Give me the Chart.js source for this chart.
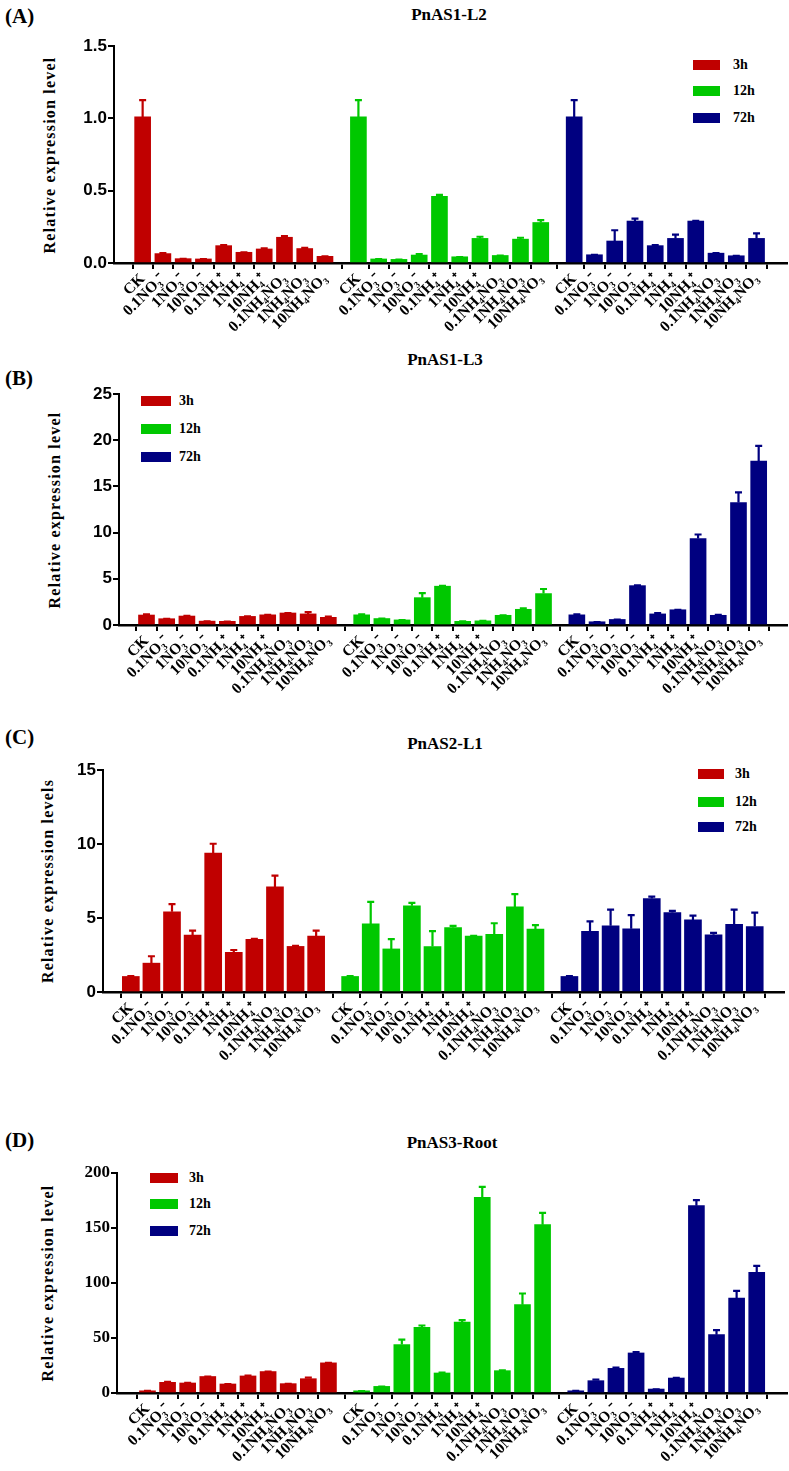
<!DOCTYPE html>
<html>
<head>
<meta charset="utf-8">
<script src="https://cdn.jsdelivr.net/npm/chart.js@4.4.0/dist/chart.umd.min.js"></script>
<style>
    body { margin: 0; background: #fff; width: 789px; height: 1471px; position: relative; overflow: hidden;
           font-family: "Liberation Serif", "Times New Roman", serif; color: #000; }
    .panel-letter { position: absolute; font-weight: bold; font-size: 21px; line-height: 24px; }
    .panel-title { position: absolute; width: 240px; text-align: center; font-weight: bold; font-size: 17px; line-height: 20px; }
    .ytitle { position: absolute; width: 280px; height: 20px; line-height: 20px; text-align: center; font-weight: bold;
              font-size: 16px; letter-spacing: 1.2px; transform: rotate(-90deg); white-space: nowrap; }
    .legend-row { position: absolute; height: 16px; line-height: 16px; font-weight: bold; font-size: 14px; white-space: nowrap; }
    .legend-row i { position: absolute; top: 3px; height: 10px; }
    canvas { position: absolute; left: 0; }
</style>
</head>
<body>
<script>
// Treatments (same for every panel and time point)
const categories = ['CK', '0.1NO₃⁻', '1NO₃⁻', '10NO₃⁻', '0.1NH₄⁺', '1NH₄⁺', '10NH₄⁺', '0.1NH₄NO₃', '1NH₄NO₃', '10NH₄NO₃'];
const seriesNames = ['3h', '12h', '72h'];
const seriesColors = ['#c00000', '#00c800', '#000080'];

// (A) PnAS1-L2 : means and SD
const a3h   = [1.01, 0.065, 0.03, 0.028, 0.12, 0.074, 0.097, 0.178, 0.10, 0.046];
const a3hSd = [0.12, 0.007, 0.003, 0.002, 0.007, 0.003, 0.008, 0.012, 0.008, 0.004];
const a12h   = [1.01, 0.028, 0.025, 0.055, 0.46, 0.043, 0.17, 0.052, 0.165, 0.28];
const a12hSd = [0.12, 0.002, 0.002, 0.01, 0.015, 0.002, 0.015, 0.002, 0.013, 0.02];
const a72h   = [1.01, 0.057, 0.152, 0.29, 0.12, 0.17, 0.29, 0.068, 0.05, 0.17];
const a72hSd = [0.12, 0.003, 0.078, 0.02, 0.007, 0.03, 0.005, 0.004, 0.003, 0.038];

// (B) PnAS1-L3
const b3h   = [1.08, 0.68, 0.97, 0.42, 0.40, 0.93, 1.10, 1.30, 1.20, 0.83];
const b3hSd = [0.12, 0.03, 0.08, 0.03, 0.03, 0.05, 0.05, 0.05, 0.25, 0.12];
const b12h   = [1.10, 0.70, 0.55, 2.96, 4.20, 0.40, 0.45, 1.05, 1.70, 3.40];
const b12hSd = [0.10, 0.05, 0.04, 0.54, 0.10, 0.04, 0.05, 0.06, 0.15, 0.55];
const b72h   = [1.10, 0.35, 0.60, 4.26, 1.20, 1.65, 9.35, 1.05, 13.25, 17.75];
const b72hSd = [0.10, 0.02, 0.05, 0.09, 0.15, 0.05, 0.50, 0.10, 1.15, 1.70];

// (C) PnAS2-L1
const c3h   = [1.05, 1.95, 5.42, 3.85, 9.38, 2.68, 3.56, 7.10, 3.08, 3.77];
const c3hSd = [0.05, 0.50, 0.55, 0.33, 0.67, 0.19, 0.06, 0.80, 0.07, 0.41];
const c12h   = [1.05, 4.60, 2.91, 5.82, 3.07, 4.35, 3.78, 3.90, 5.75, 4.25];
const c12hSd = [0.05, 1.52, 0.69, 0.23, 1.08, 0.15, 0.04, 0.78, 0.90, 0.30];
const c72h   = [1.05, 4.10, 4.47, 4.27, 6.32, 5.37, 4.87, 3.87, 4.57, 4.42];
const c72hSd = [0.05, 0.70, 1.13, 0.96, 0.16, 0.15, 0.33, 0.16, 1.03, 0.98];

// (D) PnAS3-Root
const d3h   = [2.0, 9.7, 9.1, 15.0, 8.2, 15.5, 19.5, 8.5, 13.0, 27.4];
const d3hSd = [0.3, 0.8, 0.5, 0.3, 0.4, 0.7, 0.4, 0.3, 1.4, 0.5];
const d12h   = [2.0, 6.0, 44.0, 59.7, 18.2, 64.5, 177.9, 20.3, 80.3, 153.0];
const d12hSd = [0.2, 0.3, 5.0, 2.1, 0.8, 2.2, 10.0, 0.7, 10.6, 11.2];
const d72h   = [2.0, 11.2, 22.4, 36.4, 3.6, 13.6, 170.3, 53.0, 86.4, 109.7];
const d72hSd = [0.3, 1.5, 1.2, 1.2, 0.2, 0.6, 5.5, 4.6, 6.9, 6.3];

// Y axis ticks
const aTicks = [0, 0.5, 1.0, 1.5];
const bTicks = [0, 5, 10, 15, 20, 25];
const cTicks = [0, 5, 10, 15];
const dTicks = [0, 50, 100, 150, 200];

// Layout of the four panels (pixels on the page)
const GROUP_STEP = 10.65; // distance between treatment groups, in bar slots
const panels = [
    { letter: '(A)', letterY: 16, title: 'PnAS1-L2', titleX: 449, titleY: 15,
      ytitle: 'Relative expression level', ytX: 50,
      means: [a3h, a12h, a72h], sds: [a3hSd, a12hSd, a72hSd], yTicks: aTicks, fmt: v => v.toFixed(1), sansTicks: true,
      top: 0, height: 345, chartTop: 46, chartBottom: 263, left: 114, right: 787, xMin: -0.86, xMax: 31.25, bar: 16,
      legendX: 693, legendW: 27, legendText: 733, legendY: [65, 91, 118] },
    { letter: '(B)', letterY: 378, title: 'PnAS1-L3', titleX: 445, titleY: 360,
      ytitle: 'Relative expression level', ytX: 55,
      means: [b3h, b12h, b72h], sds: [b3hSd, b12hSd, b72hSd], yTicks: bTicks, fmt: v => v, sansTicks: true,
      top: 375, height: 325, chartTop: 394, chartBottom: 625, left: 119, right: 787, xMin: -0.81, xMax: 31.15, bar: 16,
      legendX: 141, legendW: 30, legendText: 179, legendY: [401, 429, 457] },
    { letter: '(C)', letterY: 737, title: 'PnAS2-L1', titleX: 445, titleY: 744,
      ytitle: 'Relative expression levels', ytX: 48,
      means: [c3h, c12h, c72h], sds: [c3hSd, c12hSd, c72hSd], yTicks: cTicks, fmt: v => v, sansTicks: true,
      top: 752, height: 318, chartTop: 770, chartBottom: 992, left: 103, right: 784, xMin: -0.8, xMax: 31.17, bar: 17,
      legendX: 698, legendW: 26, legendText: 735, legendY: [774, 802, 827] },
    { letter: '(D)', letterY: 1140, title: 'PnAS3-Root', titleX: 452, titleY: 1143,
      ytitle: 'Relative expression level', ytX: 48,
      means: [d3h, d12h, d72h], sds: [d3hSd, d12hSd, d72hSd], yTicks: dTicks, fmt: v => v, sansTicks: false,
      top: 1155, height: 316, chartTop: 1173, chartBottom: 1393, left: 117, right: 787, xMin: -0.96, xMax: 31.25, bar: 16,
      legendX: 150, legendW: 28, legendText: 189, legendY: [1178, 1204, 1231] }
];

// Draw the upward error bars (mean + SD) on top of every bar
const errorBarPlugin = {
    id: 'errorBars',
    afterDatasetsDraw(chart) {
        const ctx = chart.ctx;
        const yScale = chart.scales.y;
        chart.data.datasets.forEach((ds, di) => {
            const meta = chart.getDatasetMeta(di);
            meta.data.forEach((bar, i) => {
                const top = yScale.getPixelForValue(ds.data[i].y + ds.errors[i]);
                ctx.save();
                ctx.strokeStyle = ds.backgroundColor;
                ctx.lineWidth = 2.2;
                ctx.beginPath();
                ctx.moveTo(bar.x, bar.y);
                ctx.lineTo(bar.x, top);
                ctx.moveTo(bar.x - 3.5, top + 0.5);
                ctx.lineTo(bar.x + 3.5, top + 0.5);
                ctx.stroke();
                ctx.restore();
            });
        });
    }
};

function addText(cls, text, style) {
    const el = document.createElement('div');
    el.className = cls;
    el.textContent = text;
    Object.assign(el.style, style);
    document.body.appendChild(el);
    return el;
}

function createPanel(p) {
    // Panel letter, title and y-axis title
    addText('panel-letter', p.letter, { left: '5px', top: (p.letterY - 12) + 'px' });
    addText('panel-title', p.title, { left: (p.titleX - 120) + 'px', top: (p.titleY - 10) + 'px' });
    const yMid = (p.chartTop + p.chartBottom) / 2;
    addText('ytitle', p.ytitle, { left: (p.ytX - 140) + 'px', top: (yMid - 10) + 'px' });

    // Legend
    seriesNames.forEach((name, k) => {
        const row = addText('legend-row', '', { left: p.legendX + 'px', top: (p.legendY[k] - 8) + 'px' });
        const box = document.createElement('i');
        box.style.left = '0px';
        box.style.width = p.legendW + 'px';
        box.style.background = seriesColors[k];
        row.appendChild(box);
        const label = document.createElement('span');
        label.textContent = name;
        label.style.position = 'absolute';
        label.style.left = (p.legendText - p.legendX) + 'px';
        row.appendChild(label);
    });

    const canvas = document.createElement('canvas');
    canvas.width = 789;
    canvas.height = p.height;
    canvas.style.top = p.top + 'px';
    document.body.appendChild(canvas);

    const positions = [];
    seriesNames.forEach((_, g) => categories.forEach((_, i) => positions.push(i + g * GROUP_STEP)));

    const datasets = seriesNames.map((name, g) => ({
        label: name,
        data: p.means[g].map((v, i) => ({ x: i + g * GROUP_STEP, y: v })),
        errors: p.sds[g],
        backgroundColor: seriesColors[g],
        borderWidth: 0,
        barThickness: p.bar,
        grouped: false
    }));

    const tickFont = p.sansTicks
        ? { family: '"Liberation Sans", Arial, sans-serif', size: 17, weight: 'bold' }
        : { family: '"Liberation Serif", "Times New Roman", serif', size: 17, weight: 'bold' };

    new Chart(canvas.getContext('2d'), {
        type: 'bar',
        data: { datasets: datasets },
        options: {
            responsive: false,
            animation: false,
            layout: { padding: { top: p.chartTop - p.top, right: 789 - p.right, left: 0, bottom: 0 } },
            plugins: { legend: { display: false }, tooltip: { enabled: false } },
            scales: {
                x: {
                    type: 'linear',
                    min: p.xMin,
                    max: p.xMax,
                    z: 1,
                    afterBuildTicks: scale => { scale.ticks = positions.map(v => ({ value: v })); },
                    afterFit: scale => { scale.height = p.top + p.height - p.chartBottom; },
                    border: { display: true, color: '#000', width: 2.5 },
                    grid: { display: true, drawOnChartArea: false, drawTicks: true, tickLength: 6, color: '#000', lineWidth: 2 },
                    ticks: {
                        autoSkip: false,
                        maxRotation: 45,
                        minRotation: 45,
                        padding: 1,
                        color: '#000',
                        font: { family: '"Liberation Serif", "Times New Roman", serif', size: 15.5, weight: 'bold' },
                        callback: (value, index) => categories[index % categories.length]
                    }
                },
                y: {
                    min: p.yTicks[0],
                    max: p.yTicks[p.yTicks.length - 1],
                    afterBuildTicks: scale => { scale.ticks = p.yTicks.map(v => ({ value: v })); },
                    afterFit: scale => { scale.width = p.left; },
                    border: { display: true, color: '#000', width: 2 },
                    grid: { display: true, drawOnChartArea: false, drawTicks: true, tickLength: 6, color: '#000', lineWidth: 2 },
                    ticks: {
                        padding: 1,
                        color: '#000',
                        font: tickFont,
                        callback: value => p.fmt(value)
                    }
                }
            }
        },
        plugins: [errorBarPlugin]
    });
}

panels.forEach(createPanel);
</script>
</body>
</html>
